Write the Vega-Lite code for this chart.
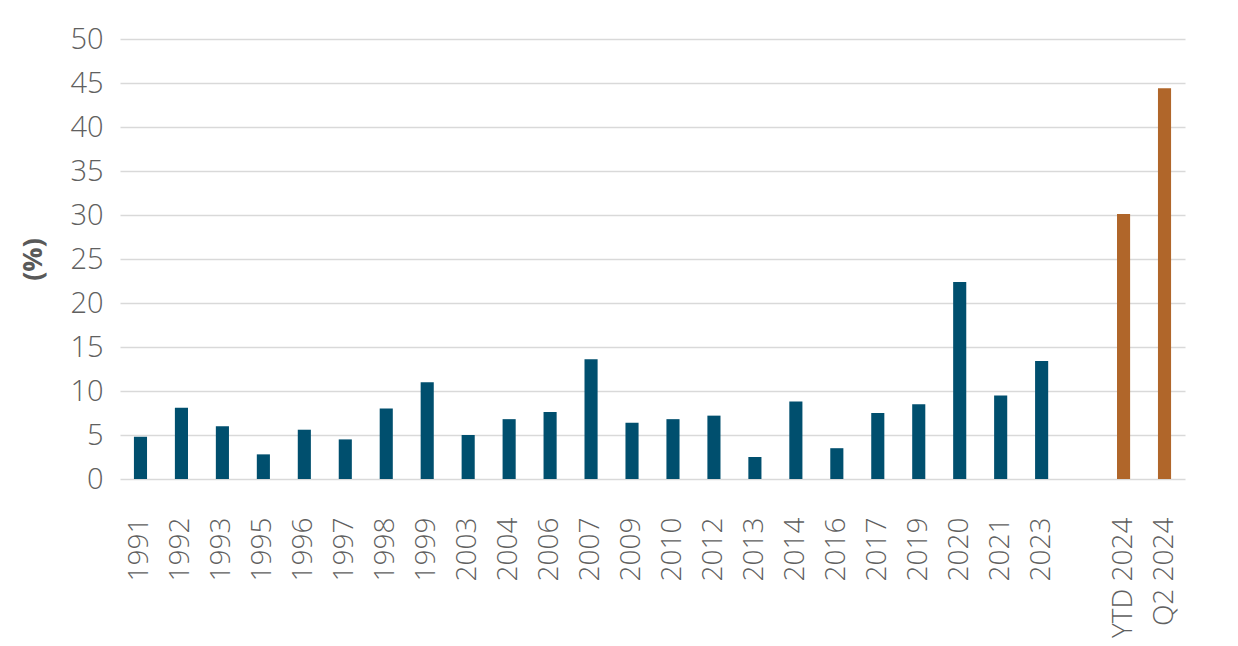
{
  "$schema": "https://vega.github.io/schema/vega-lite/v6.json",
  "width": 1065,
  "height": 440,
  "autosize": {"type": "none"},
  "padding": {"left": 120, "top": 39, "right": 53, "bottom": 167},
  "background": "white",
  "config": {"view": {"stroke": null}, "font": "Open Sans"},
  "data": {"values": [
    {"cat": "1991", "value": 4.8, "grp": "hist"},
    {"cat": "1992", "value": 8.1, "grp": "hist"},
    {"cat": "1993", "value": 6.0, "grp": "hist"},
    {"cat": "1995", "value": 2.8, "grp": "hist"},
    {"cat": "1996", "value": 5.6, "grp": "hist"},
    {"cat": "1997", "value": 4.5, "grp": "hist"},
    {"cat": "1998", "value": 8.0, "grp": "hist"},
    {"cat": "1999", "value": 11.0, "grp": "hist"},
    {"cat": "2003", "value": 5.0, "grp": "hist"},
    {"cat": "2004", "value": 6.8, "grp": "hist"},
    {"cat": "2006", "value": 7.6, "grp": "hist"},
    {"cat": "2007", "value": 13.6, "grp": "hist"},
    {"cat": "2009", "value": 6.4, "grp": "hist"},
    {"cat": "2010", "value": 6.8, "grp": "hist"},
    {"cat": "2012", "value": 7.2, "grp": "hist"},
    {"cat": "2013", "value": 2.5, "grp": "hist"},
    {"cat": "2014", "value": 8.8, "grp": "hist"},
    {"cat": "2016", "value": 3.5, "grp": "hist"},
    {"cat": "2017", "value": 7.5, "grp": "hist"},
    {"cat": "2019", "value": 8.5, "grp": "hist"},
    {"cat": "2020", "value": 22.4, "grp": "hist"},
    {"cat": "2021", "value": 9.5, "grp": "hist"},
    {"cat": "2023", "value": 13.4, "grp": "hist"},
    {"cat": "YTD 2024", "value": 30.1, "grp": "cur"},
    {"cat": "Q2 2024", "value": 44.4, "grp": "cur"}
  ]},
  "mark": {"type": "bar"},
  "encoding": {
    "x": {
      "field": "cat", "type": "nominal", "sort": null,
      "scale": {
        "domain": ["1991","1992","1993","1995","1996","1997","1998","1999","2003","2004","2006","2007","2009","2010","2012","2013","2014","2016","2017","2019","2020","2021","2023"," ","YTD 2024","Q2 2024"],
        "paddingInner": 0.68, "paddingOuter": 0.34
      },
      "axis": {
        "title": null, "domain": false, "ticks": false,
        "labelAngle": -90, "labelAlign": "right", "labelBaseline": "middle",
        "labelPadding": 38, "labelFontSize": 28, "labelColor": "#606060",
        "labelFontWeight": 300
      }
    },
    "y": {
      "field": "value", "type": "quantitative",
      "scale": {"domain": [0, 50]},
      "axis": {
        "title": "(%)", "titleFontSize": 27, "titleFontWeight": "bold", "titleColor": "#595959",
        "titlePadding": 22,
        "values": [0,5,10,15,20,25,30,35,40,45,50],
        "domain": false, "ticks": false,
        "labelFontSize": 29, "labelColor": "#606060", "labelPadding": 17,
        "labelFontWeight": 300,
        "gridColor": "#d9d9d9", "gridWidth": 1.5
      }
    },
    "color": {
      "field": "grp", "type": "nominal", "legend": null,
      "scale": {"domain": ["hist", "cur"], "range": ["#004F6E", "#B0662A"]}
    }
  }
}
